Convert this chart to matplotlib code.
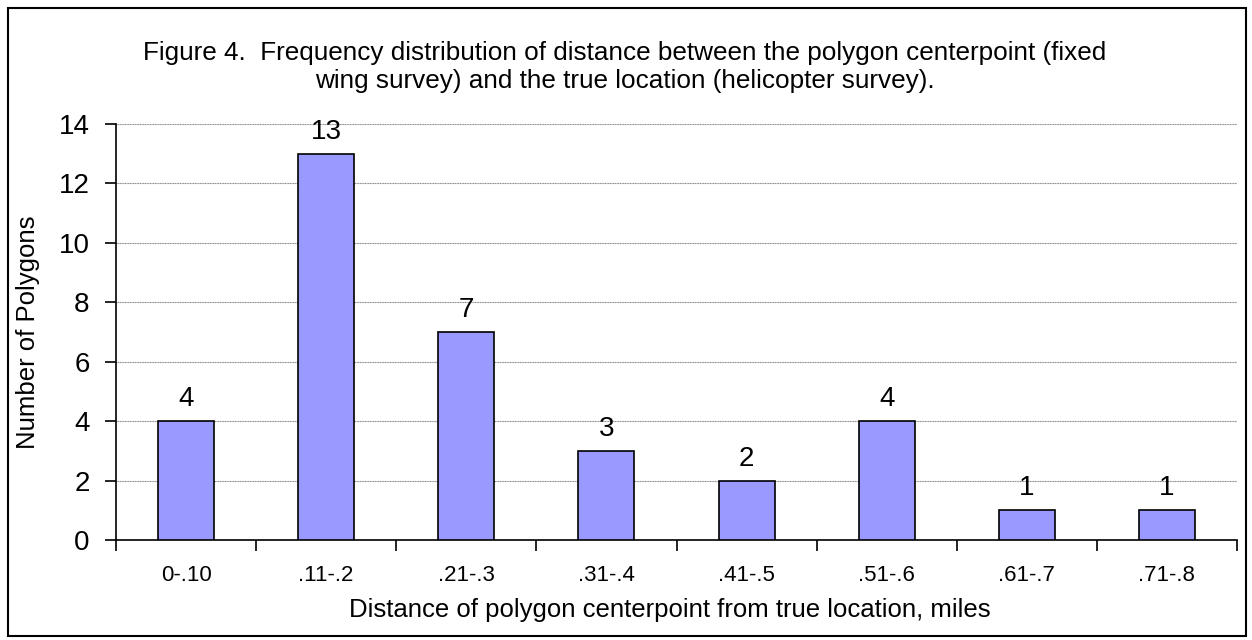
import matplotlib
matplotlib.use("Agg")
import matplotlib.pyplot as plt
from matplotlib.patches import Rectangle

categories = ["0-.10", ".11-.2", ".21-.3", ".31-.4", ".41-.5", ".51-.6", ".61-.7", ".71-.8"]
counts = [4, 13, 7, 3, 2, 4, 1, 1]
yticks = [0, 2, 4, 6, 8, 10, 12, 14]

plt.rcParams['font.family'] = ['Liberation Sans', 'DejaVu Sans']

W, H = 1252, 640
fig = plt.figure(figsize=(W/100, H/100), dpi=100)
ax = fig.add_axes([116/W, 1 - 540/H, (1237-116)/W, (540-124)/H])

x = list(range(len(categories)))
ax.bar(x, counts, width=0.4, color="#9999FF", edgecolor="black", linewidth=1.2, zorder=3)
for xi, c in zip(x, counts):
    ax.text(xi, c + 0.3, str(c), ha="center", va="bottom", fontsize=20, zorder=4)

ax.set_xlim(-0.5, len(categories) - 0.5)
ax.set_ylim(0, 14)
ax.set_yticks(yticks)
ax.set_yticklabels([str(t) for t in yticks], fontsize=20)
ax.yaxis.grid(True, color="#888888", linestyle=(0, (1, 0.5)), linewidth=0.8, zorder=0)

ax.set_xticks([i - 0.5 for i in range(len(categories) + 1)])
ax.set_xticklabels([])
ax.set_xticks(x, minor=True)
ax.set_xticklabels(categories, minor=True, fontsize=16)
ax.tick_params(axis="x", which="minor", length=0, pad=18)
ax.tick_params(axis="x", which="major", length=8, width=1.2, direction="out")
ax.tick_params(axis="y", length=8, width=1.2, direction="out", pad=11)

for s in ["top", "right"]:
    ax.spines[s].set_visible(False)
for s in ["left", "bottom"]:
    ax.spines[s].set_linewidth(1.2)

fig.text(670/W, 1 - 610/H, "Distance of polygon centerpoint from true location, miles",
         ha="center", va="center", fontsize=18.5)
fig.text(28/W, 1 - 332/H, "Number of Polygons", rotation=90,
         ha="center", va="center", fontsize=18.5)

fig.text(625/W, 1 - 67/H, "Figure 4.  Frequency distribution of distance between the polygon centerpoint (fixed\nwing survey) and the true location (helicopter survey).",
         ha="center", va="center", fontsize=18.8, linespacing=1.2)

fig.patches.append(Rectangle((8/W, 1 - 636/H), (1246-8)/W, (636-8)/H, transform=fig.transFigure,
                             fill=False, edgecolor="black", linewidth=1.5))

fig.savefig("out.png", dpi=100, facecolor="white")
